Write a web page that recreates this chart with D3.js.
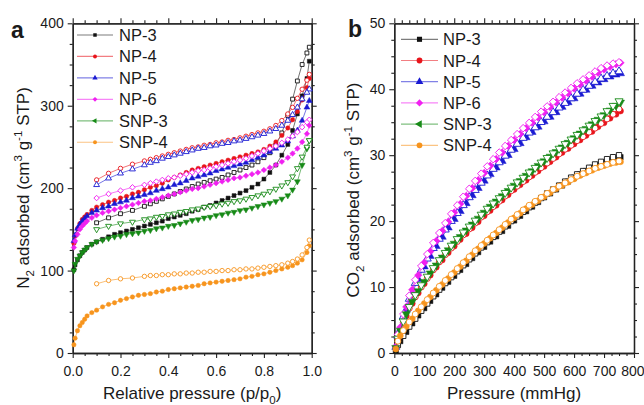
<!DOCTYPE html>
<html>
<head>
<meta charset="utf-8">
<script src="https://cdn.jsdelivr.net/npm/d3@7"></script>
<style>
  body { margin: 0; background: #fff; }
  svg text { font-family: "Liberation Sans", Arial, sans-serif; fill: #1a1a1a; }
</style>
</head>
<body>
<svg id="vis" width="644" height="405"></svg>
<script>
// series info
const seriesNames = ["NP-3", "NP-4", "NP-5", "NP-6", "SNP-3", "SNP-4"];
const seriesColors = ["#111111", "#e8141b", "#1a1ad2", "#f020f0", "#178a17", "#f7941d"];

// panel a: N2 isotherms (relative pressure)
const n2AdsP = [0.005,0.01,0.02,0.03,0.04,0.05,0.06,0.08,0.10,0.125,0.15,0.175,0.20,0.225,0.25,0.275,0.30,0.325,0.35,0.375,0.40,0.425,0.45,0.475,0.50,0.525,0.55,0.575,0.60,0.625,0.65,0.675,0.70,0.725,0.75,0.775,0.80,0.825,0.85,0.875,0.90,0.92,0.94,0.96,0.98,0.99];
const n2DesP = [0.99,0.98,0.96,0.94,0.92,0.90,0.875,0.85,0.825,0.80,0.775,0.75,0.725,0.70,0.675,0.65,0.625,0.60,0.575,0.55,0.525,0.50,0.475,0.45,0.425,0.40,0.375,0.35,0.325,0.30,0.25,0.20,0.15,0.10];

const n2AdsNP3 = [101,107,113,118,122,125,128,132,135,138,141,144,146,148,150,152,154,156,158,160,163,165,167,169,172,174,177,179,182,185,188,191,194,197,201,205,211,219,228,240,253,270,290,312,333,354];
const n2DesNP3 = [371,364,350,330,308,288,267,252,243,237,232,228,225,222,219,216,213,211,209,207,205,202,199,196,193,190,187,184,181,178,173,169,164,158];
const n2AdsNP4 = [133,142,151,157,162,165,168,173,177,180,183,185,188,190,193,195,198,201,203,206,210,213,216,219,222,224,226,228,230,232,234,236,238,240,242,244,247,251,256,264,273,283,293,307,322,333];
const n2DesNP4 = [338,331,320,309,298,290,282,276,272,269,267,265,263,261,259,258,256,255,253,252,250,249,247,245,243,241,239,237,235,233,229,224,218,210];
const n2AdsNP5 = [136,143,151,156,160,163,166,170,173,176,178,181,183,185,188,190,192,194,197,199,201,204,206,209,212,214,216,218,221,223,225,227,229,231,234,237,240,244,248,252,257,263,270,282,298,306];
const n2DesNP5 = [320,316,308,298,289,282,276,272,269,266,264,262,260,258,257,255,254,252,251,249,248,246,244,242,240,238,236,233,231,228,223,218,212,204];
const n2AdsNP6 = [128,136,144,150,154,157,160,164,167,170,172,174,176,178,180,182,184,185,187,189,191,193,195,197,199,200,202,204,206,208,210,212,213,215,217,219,222,225,228,232,237,242,248,256,266,276];
const n2DesNP6 = [283,280,274,268,263,259,255,251,248,245,242,239,236,234,232,230,228,226,224,222,221,219,217,215,213,212,210,208,206,204,201,197,193,188];
const n2AdsSNP3 = [100,108,114,118,122,125,128,132,135,137,139,141,142,144,145,146,148,149,151,152,154,155,157,159,161,162,164,165,167,168,170,171,173,174,176,178,180,182,184,187,191,198,208,228,248,258];
const n2DesSNP3 = [258,250,238,224,214,207,203,199,196,193,191,189,187,185,184,182,181,179,178,177,175,174,172,171,169,168,166,165,163,162,159,157,154,150];
const n2AdsSNP4 = [10,18,27,33,37,41,45,49,52,56,59,61,64,66,68,70,71,72,74,75,77,78,79,80,81,82,84,85,86,87,88,89,90,92,93,95,96,98,100,102,104,106,109,113,122,130];
const n2DesSNP4 = [137,128,119,114,111,109,107,106,105,104,103,102,102,101,101,100,100,99,99,98,98,97,97,96,96,95,95,94,94,93,91,90,88,84];

// panel b: CO2 isotherms (mmHg)
const co2AdsP = [5,20,40,60,80,100,120,140,160,180,200,220,240,260,280,300,320,340,360,380,400,420,440,460,480,500,520,540,560,580,600,620,640,660,680,700,720,740,755];
const co2DesP = [12,30,50,70,90,110,130,150,170,190,210,230,250,270,290,310,330,350,370,390,410,430,450,470,490,510,530,550,570,590,610,630,650,670,690,710,730,750];

const co2AdsNP3 = [0.4,1.8,3.2,4.5,5.7,6.8,7.9,8.9,9.9,10.8,11.7,12.6,13.5,14.4,15.3,16.1,16.9,17.7,18.5,19.3,20.1,20.8,21.5,22.2,22.9,23.6,24.2,24.8,25.4,26.0,26.6,27.1,27.6,28.1,28.5,28.9,29.2,29.5,29.7];
const co2DesNP3 = [1.2,2.6,4.0,5.2,6.4,7.5,8.6,9.6,10.6,11.5,12.4,13.3,14.2,15.1,16.0,16.8,17.6,18.4,19.2,20.0,20.7,21.4,22.1,22.8,23.5,24.2,24.8,25.4,26.0,26.6,27.1,27.6,28.1,28.6,29.0,29.4,29.7,30.0];
const co2AdsNP4 = [0.7,3.2,5.6,7.5,9.1,10.5,11.8,13.0,14.1,15.2,16.2,17.2,18.1,19.0,19.9,20.8,21.6,22.4,23.2,24.0,24.8,25.5,26.2,26.9,27.6,28.3,29.0,29.7,30.4,31.0,31.7,32.3,33.0,33.6,34.3,34.9,35.6,36.2,36.7];
const co2DesNP4 = [2.1,4.6,6.8,8.5,10.0,11.3,12.6,13.8,14.9,15.9,16.9,17.9,18.8,19.7,20.6,21.4,22.2,23.0,23.8,24.6,25.3,26.0,26.7,27.4,28.1,28.8,29.5,30.2,30.9,31.5,32.2,32.8,33.5,34.1,34.8,35.5,36.2,37.0];
const co2AdsNP5 = [0.9,3.6,6.6,9.1,11.2,13.1,14.7,16.2,17.6,19.0,20.3,21.5,22.7,23.9,25.0,26.1,27.1,28.1,29.1,30.0,30.9,31.8,32.7,33.5,34.3,35.1,35.8,36.5,37.3,38.0,38.6,39.3,39.9,40.5,41.0,41.5,41.9,42.2,42.4];
const co2DesNP5 = [2.6,5.5,8.2,10.6,12.6,14.3,15.9,17.3,18.7,20.0,21.2,22.4,23.6,24.7,25.8,26.9,27.9,28.9,29.9,30.8,31.7,32.6,33.4,34.2,35.0,35.8,36.5,37.2,37.9,38.6,39.3,39.9,40.5,41.1,41.6,42.0,42.4,42.7];
const co2AdsNP6 = [1.0,3.9,7.0,9.6,11.8,13.7,15.4,17.0,18.5,19.9,21.3,22.6,23.8,25.0,26.2,27.3,28.4,29.4,30.4,31.4,32.3,33.2,34.1,34.9,35.7,36.5,37.3,38.0,38.7,39.4,40.1,40.7,41.3,41.9,42.5,43.0,43.4,43.8,44.0];
const co2DesNP6 = [2.8,5.9,8.7,11.1,13.2,15.0,16.7,18.2,19.7,21.1,22.4,23.7,24.9,26.1,27.2,28.3,29.4,30.4,31.4,32.3,33.2,34.1,34.9,35.8,36.6,37.4,38.1,38.8,39.5,40.2,40.9,41.5,42.1,42.7,43.2,43.6,43.9,44.1];
const co2AdsSNP3 = [0.8,3.4,5.9,7.8,9.4,10.8,12.1,13.3,14.5,15.6,16.6,17.6,18.6,19.5,20.4,21.3,22.2,23.0,23.8,24.6,25.4,26.1,26.9,27.6,28.4,29.1,29.8,30.5,31.2,31.9,32.6,33.3,34.0,34.7,35.4,36.1,36.8,37.5,38.0];
const co2DesSNP3 = [2.2,4.8,7.0,8.8,10.3,11.6,12.9,14.1,15.2,16.3,17.3,18.3,19.2,20.1,21.0,21.9,22.7,23.5,24.3,25.1,25.9,26.6,27.4,28.1,28.9,29.6,30.3,31.0,31.7,32.4,33.1,33.8,34.5,35.2,35.9,36.7,37.5,38.2];
const co2AdsSNP4 = [0.6,2.6,4.0,5.2,6.4,7.5,8.5,9.5,10.4,11.3,12.2,13.1,14.0,14.9,15.8,16.6,17.4,18.2,19.0,19.8,20.5,21.2,21.9,22.5,23.1,23.7,24.3,24.9,25.4,25.9,26.4,26.9,27.3,27.7,28.1,28.4,28.7,28.9,29.0];
const co2DesSNP4 = [1.8,3.4,4.7,5.9,7.0,8.1,9.1,10.1,11.0,11.9,12.8,13.7,14.6,15.5,16.3,17.1,17.9,18.7,19.5,20.3,21.0,21.7,22.4,23.0,23.6,24.2,24.8,25.3,25.8,26.3,26.8,27.2,27.6,28.0,28.3,28.6,28.9,29.1];

// tick values
const aXTicks = [0, 0.2, 0.4, 0.6, 0.8, 1.0];
const aYTicks = [0, 100, 200, 300, 400];
const bXTicks = [0, 100, 200, 300, 400, 500, 600, 700, 800];
const bYTicks = [0, 10, 20, 30, 40, 50];

const n2Ads = [n2AdsNP3, n2AdsNP4, n2AdsNP5, n2AdsNP6, n2AdsSNP3, n2AdsSNP4];
const n2Des = [n2DesNP3, n2DesNP4, n2DesNP5, n2DesNP6, n2DesSNP3, n2DesSNP4];
const co2Ads = [co2AdsNP3, co2AdsNP4, co2AdsNP5, co2AdsNP6, co2AdsSNP3, co2AdsSNP4];
const co2Des = [co2DesNP3, co2DesNP4, co2DesNP5, co2DesNP6, co2DesSNP3, co2DesSNP4];

// marker shapes: [d3 symbol, rotation]
const shapes = [
  [d3.symbolSquare, 0],
  [d3.symbolCircle, 0],
  [d3.symbolTriangle, 0],
  [d3.symbolSquare, 45],
  [d3.symbolTriangle, 180],
  [d3.symbolCircle, 0]
];

const svg = d3.select("#vis");
const fontFam = '"Liberation Sans", Arial, sans-serif';

const xA = d3.scaleLinear().domain([0, 1]).range([72.7, 311.7]);
const yA = d3.scaleLinear().domain([0, 400]).range([353, 23.3]);
const xB = d3.scaleLinear().domain([0, 800]).range([394.3, 634]);
const yB = d3.scaleLinear().domain([0, 50]).range([353, 23.3]);

function addAxis(make, scale, tr, majors, minors, fmt, pad) {
  const gm = svg.append("g").attr("transform", tr)
    .call(make(scale).tickValues(minors).tickSize(3).tickSizeOuter(0).tickFormat(""));
  const gM = svg.append("g").attr("transform", tr)
    .call(make(scale).tickValues(majors).tickSize(5).tickSizeOuter(0).tickPadding(pad)
      .tickFormat(fmt ? fmt : ""));
  [gm, gM].forEach(function(g) {
    g.select(".domain").attr("stroke", "#222").attr("stroke-width", 1.3);
    g.selectAll(".tick line").attr("stroke", "#222").attr("stroke-width", 1.1);
    g.selectAll("text").attr("font-size", 14).attr("font-family", fontFam).attr("fill", "#1a1a1a");
  });
  return gM;
}

function minorsOf(from, to, step, majors) {
  const out = [];
  for (let v = from; v <= to + 1e-9; v += step) {
    const r = Math.round(v * 1000) / 1000;
    if (!majors.some(m => Math.abs(m - r) < 1e-9)) out.push(r);
  }
  return out;
}

function drawFrame(x, y, xt, yt, xStep, yStep, xf, yf) {
  const xm = minorsOf(x.domain()[0], x.domain()[1], xStep, xt);
  const ym = minorsOf(y.domain()[0], y.domain()[1], yStep, yt);
  const [x0, x1] = x.range();
  const [y0, y1] = y.range();
  const bottom = addAxis(d3.axisBottom, x, `translate(0,${y0})`, xt, xm, xf, 8);
  addAxis(d3.axisTop, x, `translate(0,${y1})`, xt, xm, null, 3);
  addAxis(d3.axisLeft, y, `translate(${x0},0)`, yt, ym, yf, 4);
  addAxis(d3.axisRight, y, `translate(${x1},0)`, yt, ym, null, 3);
  return bottom;
}

drawFrame(xA, yA, aXTicks, aYTicks, 0.05, 25, d3.format(".1f"), d3.format("d"));
const bottomB = drawFrame(xB, yB, bXTicks, bYTicks, 25, 2.5, d3.format("d"), d3.format("d"));
// last label sits at the right edge of the page; keep it inside
bottomB.selectAll(".tick text").filter(d => d === 800).attr("text-anchor", "end").attr("dx", 10);

function markerPath(i, size) {
  return d3.symbol().type(shapes[i][0]).size(size)();
}

function drawSeries(g, x, y, px, vals, i, open, size) {
  const pts = px.map((p, k) => [x(p), y(vals[k])]);
  g.append("path")
    .attr("d", d3.line()(pts))
    .attr("fill", "none")
    .attr("stroke", seriesColors[i])
    .attr("stroke-opacity", 0.75)
    .attr("stroke-width", 0.8);
  g.selectAll(null)
    .data(pts)
    .enter()
    .append("path")
    .attr("d", markerPath(i, size))
    .attr("transform", d => `translate(${d[0]},${d[1]}) rotate(${shapes[i][1]})`)
    .attr("fill", open ? "#fff" : seriesColors[i])
    .attr("stroke", seriesColors[i])
    .attr("stroke-width", open ? 0.9 : 0.5);
}

const gA = svg.append("g").attr("id", "dataA");
const gB = svg.append("g").attr("id", "dataB");
seriesNames.forEach(function(name, i) {
  drawSeries(gA, xA, yA, n2AdsP, n2Ads[i], i, false, 15);
  drawSeries(gA, xA, yA, n2DesP, n2Des[i], i, true, 15);
  drawSeries(gB, xB, yB, co2AdsP, co2Ads[i], i, false, 28);
  drawSeries(gB, xB, yB, co2DesP, co2Des[i], i, true, 28);
});

// legends
function drawLegend(lx0, lx1, tx, top, step, msize) {
  const g = svg.append("g");
  seriesNames.forEach(function(name, i) {
    const cy = top + i * step;
    g.append("line")
      .attr("x1", lx0).attr("x2", lx1).attr("y1", cy).attr("y2", cy)
      .attr("stroke", seriesColors[i]).attr("stroke-opacity", 0.55).attr("stroke-width", 1.2);
    const rot = i === 4 ? -90 : shapes[i][1];
    g.append("path")
      .attr("d", markerPath(i, msize))
      .attr("transform", `translate(${(lx0 + lx1) / 2},${cy}) rotate(${rot})`)
      .attr("fill", seriesColors[i]);
    g.append("text")
      .attr("x", tx).attr("y", cy + 6)
      .attr("font-size", 16.5)
      .text(name);
  });
}
drawLegend(77, 113, 119, 35, 21.45, 12);
drawLegend(401, 438, 443, 39.3, 21.2, 26);

// rich text helper for sub/superscripts
function richText(t, parts, fs) {
  let shift = 0;
  parts.forEach(function(part) {
    const kind = part[1];
    const target = kind === "sub" ? fs * 0.3 : kind === "sup" ? -fs * 0.4 : 0;
    t.append("tspan")
      .attr("dy", target - shift)
      .attr("font-size", kind === "n" ? fs : fs * 0.68)
      .text(part[0]);
    shift = target;
  });
}

const titleSize = 17;
richText(svg.append("text").attr("x", 192.2).attr("y", 399).attr("text-anchor", "middle"),
  [["Relative pressure (p/p", "n"], ["0", "sub"], [")", "n"]], titleSize);
richText(svg.append("text").attr("x", 514).attr("y", 399).attr("text-anchor", "middle"),
  [["Pressure (mmHg)", "n"]], titleSize);
richText(svg.append("text").attr("text-anchor", "middle")
    .attr("transform", "translate(29,188) rotate(-90)"),
  [["N", "n"], ["2", "sub"], [" adsorbed (cm", "n"], ["3", "sup"], [" g", "n"], ["-1", "sup"], [" STP)", "n"]], titleSize);
richText(svg.append("text").attr("text-anchor", "middle")
    .attr("transform", "translate(359,190) rotate(-90)"),
  [["CO", "n"], ["2", "sub"], [" adsorbed (cm", "n"], ["3", "sup"], [" g", "n"], ["-1", "sup"], [" STP)", "n"]], titleSize);

// panel letters
svg.append("text").attr("x", 11).attr("y", 38).attr("font-size", 23).attr("font-weight", "bold").text("a");
svg.append("text").attr("x", 348).attr("y", 37).attr("font-size", 23).attr("font-weight", "bold").text("b");
</script>
</body>
</html>
